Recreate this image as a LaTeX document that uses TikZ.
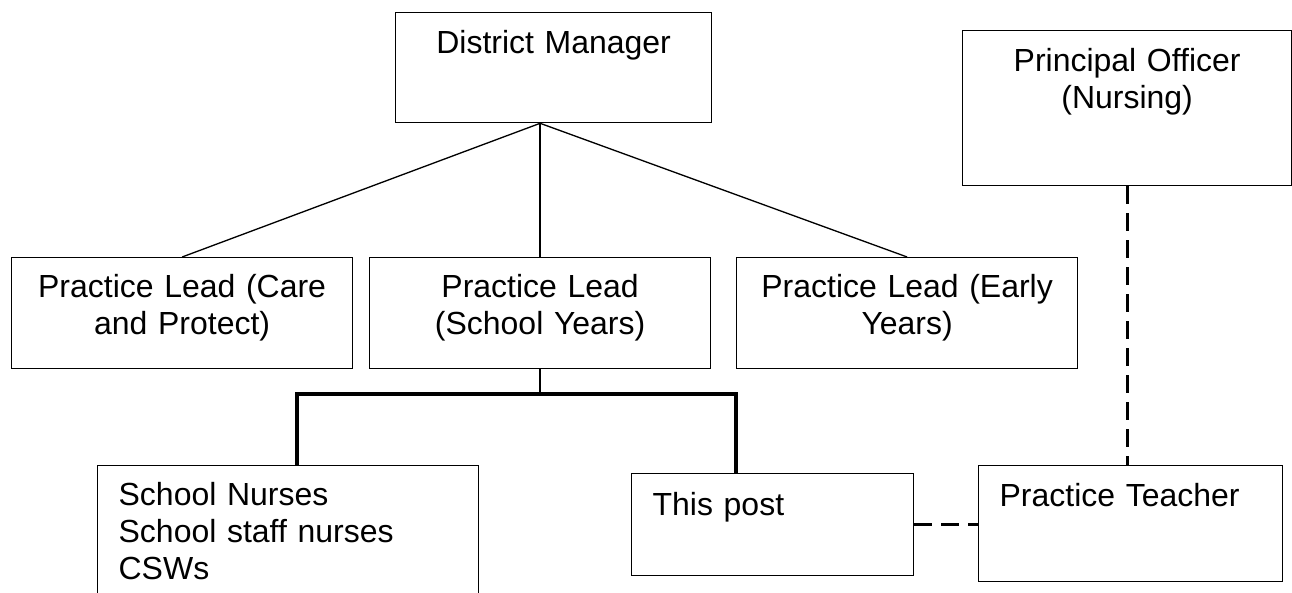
\documentclass[tikz,border=0pt]{standalone}
\usepackage{fontspec}
\setmainfont{Liberation Sans}

\begin{document}
\begin{tikzpicture}[x=0.02cm, y=-0.02cm,
  role/.style={rectangle, draw, line width=0.75pt, anchor=north west, inner ysep=0pt, font=\fontsize{18.2}{21}\selectfont},
  centred/.style={role, inner xsep=0pt, align=center},
  listed/.style={role, inner xsep=0.42cm, align=left},
  bus/.style={line width=2pt},
  liaison/.style={line width=1.7pt, dash pattern=on 0.36cm off 0.18cm}]
  \useasboundingbox (0,0) rectangle (1292,592);

  \node (dm) [centred, text width=6.32cm, text height=0.82cm, text depth=1.38cm] at (395,12) {District Manager};
  \node (officer) [centred, text width=6.58cm, text height=0.82cm, text depth=2.28cm] at (962,30) {Principal Officer\\(Nursing)};

  \node (care) [centred, text width=6.82cm, text height=0.8cm, text depth=1.42cm] at (11,257) {Practice Lead (Care\\and Protect)};
  \node (school) [centred, text width=6.82cm, text height=0.8cm, text depth=1.42cm] at (369,257) {Practice Lead\\(School Years)};
  \node (early) [centred, text width=6.82cm, text height=0.8cm, text depth=1.42cm] at (736,257) {Practice Lead (Early\\Years)};

  \node (nurses) [listed, text width=6.78cm, text height=0.8cm, text depth=1.9cm] at (97,465) {School Nurses\\School staff nurses\\CSWs};
  \node (post) [listed, text width=4.8cm, text height=0.84cm, text depth=1.2cm] at (631,473) {This post};
  \node (teacher) [listed, text width=5.24cm, text height=0.82cm, text depth=1.5cm] at (978,465) {Practice Teacher};

  \draw[line width=0.75pt] (school.north |- dm.south) -- (care.north);
  \draw[line width=0.75pt] (school.north |- dm.south) -- (school.north);
  \draw[line width=0.75pt] (school.north |- dm.south) -- (early.north);

  \coordinate (busl) at (297,394);
  \coordinate (busr) at (736,394);
  \draw[line width=1.2pt] (school.south) -- (school.south |- busl);
  \draw[bus] (busl |- nurses.north) -- (busl) -- (busr) -- (busr |- post.north);

  \draw[liaison] (officer.south) -- (officer.south |- teacher.north);
  \draw[liaison] (post.east) -- (post.east -| teacher.west);
\end{tikzpicture}
\end{document}
